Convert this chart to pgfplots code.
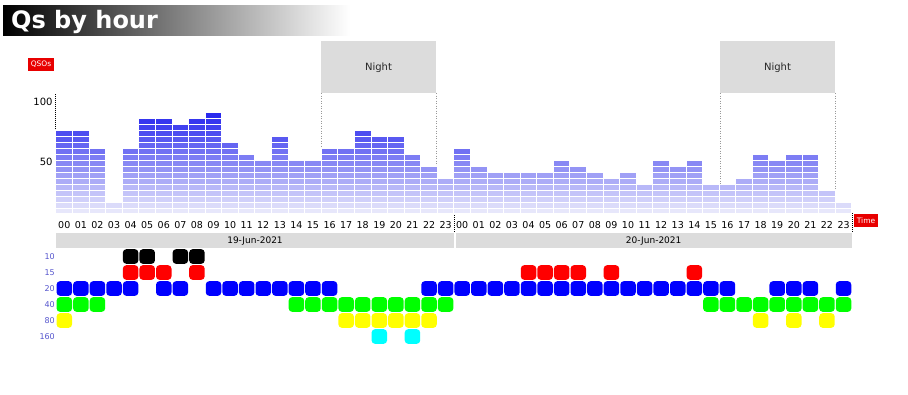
\documentclass[border=0pt]{standalone}
\usepackage{pgfplots}
\pgfplotsset{compat=1.18}
\usepackage{pgfplotstable}
\usepackage{fontspec}
\setmainfont{DejaVu Sans}
\definecolor{barTop}{RGB}{18,18,236}
\definecolor{barBot}{RGB}{255,255,253}
\definecolor{nightgray}{RGB}{220,220,220}
\definecolor{lblue}{RGB}{85,85,205}
\definecolor{redbox}{RGB}{232,0,0}
\definecolor{bgreen}{RGB}{0,255,0}
\definecolor{byellow}{RGB}{255,255,0}
\definecolor{bcyan}{RGB}{0,255,255}
\definecolor{bblue}{RGB}{0,0,255}
\definecolor{bred}{RGB}{255,0,0}

\pgfdeclareplotmark{rsq}{%
  \pgfpathmoveto{\pgfpoint{-4.25pt}{-7.35pt}}%
  \pgfpathlineto{\pgfpoint{4.25pt}{-7.35pt}}%
  \pgfpatharc{-90}{0}{3.5pt}%
  \pgfpathlineto{\pgfpoint{7.75pt}{3.85pt}}%
  \pgfpatharc{0}{90}{3.5pt}%
  \pgfpathlineto{\pgfpoint{-4.25pt}{7.35pt}}%
  \pgfpatharc{90}{180}{3.5pt}%
  \pgfpathlineto{\pgfpoint{-7.75pt}{-3.85pt}}%
  \pgfpatharc{180}{270}{3.5pt}%
  \pgfpathclose
  \pgfusepathqfill}

\pgfplotstableread{
h v
0 75
1 75
2 60
3 15
4 60
5 85
6 85
7 80
8 85
9 90
10 65
11 55
12 50
13 70
14 50
15 50
16 60
17 60
18 75
19 70
20 70
21 55
22 45
23 35
24 60
25 45
26 40
27 40
28 40
29 40
30 50
31 45
32 40
33 35
34 40
35 30
36 50
37 45
38 50
39 30
40 30
41 35
42 55
43 50
44 55
45 55
46 25
47 15
}\hourdata

\begin{document}
\begin{tikzpicture}
\useasboundingbox (0pt,0pt) rectangle (908pt,-394pt);
% title bar
\shade[left color=black, right color=white] (3pt,-5pt) rectangle (350pt,-35pt);
\node[anchor=base west, text=white, inner sep=0pt, font=\fontsize{24}{28}\bfseries\selectfont] at (11pt,-28.5pt) {Qs by hour};
% night boxes
\fill[nightgray] (321pt,-41pt) rectangle (436pt,-93pt);
\fill[nightgray] (720pt,-41pt) rectangle (835pt,-93pt);
\node[font=\fontsize{10}{12}\selectfont, text=black!85] at (378.5pt,-67.5pt) {Night};
\node[font=\fontsize{10}{12}\selectfont, text=black!85] at (777.5pt,-67.5pt) {Night};
\foreach \xx in {321,436,720,835}{
  \draw[black!40, line width=0.6pt, dash pattern=on 1pt off 1.5pt] (\xx pt,-93pt) -- (\xx pt,-213pt);
}
% labels
\node[fill=redbox, text=white, font=\fontsize{7.5}{9}\selectfont, minimum width=26pt, minimum height=13pt, inner sep=0pt] at (41pt,-64.5pt) {QSOs};
\node[fill=redbox, text=white, font=\fontsize{7.5}{9}\selectfont, minimum width=24pt, minimum height=13pt, inner sep=0pt] at (866pt,-220.5pt) {Time};
% date bands
\fill[nightgray] (56pt,-233.3pt) rectangle (453.5pt,-247.7pt);
\fill[nightgray] (455.5pt,-233.3pt) rectangle (852pt,-247.7pt);
\node[font=\fontsize{9}{11}\selectfont] at (255pt,-240.8pt) {19-Jun-2021};
\node[font=\fontsize{9}{11}\selectfont] at (653.7pt,-240.8pt) {20-Jun-2021};
\draw[black, line width=0.8pt, dash pattern=on 1pt off 1pt] (454.3pt,-213.4pt) -- (454.3pt,-233pt);
\draw[black, line width=0.8pt, dash pattern=on 1pt off 1pt] (852pt,-213.4pt) -- (852pt,-233pt);

\begin{axis}[
  at={(55pt,-213.4pt)}, anchor=south west,
  x=16.58pt, y=1.2pt,
  xmin=-0.56, xmax=47.5, ymin=5.5, ymax=105,
  axis x line*=bottom, axis y line*=left,
  axis line style={black, line width=0.8pt, dash pattern=on 1pt off 1pt, -},
  xtick={0,...,47},
  xticklabels={00,01,02,03,04,05,06,07,08,09,10,11,12,13,14,15,16,17,18,19,20,21,22,23,00,01,02,03,04,05,06,07,08,09,10,11,12,13,14,15,16,17,18,19,20,21,22,23},
  ytick={50,100}, yticklabels={50,100},
  major tick length=0pt,
  xticklabel style={font=\fontsize{9.5}{11}\selectfont, anchor=base, yshift=-14.8pt, inner sep=0pt},
  yticklabel style={font=\fontsize{10}{12}\selectfont, anchor=base east, inner sep=0pt, xshift=-2.3pt, yshift=-5.7pt},
]
\pgfplotsinvokeforeach{90,85,...,10}{
  \addplot[ybar, bar width=16.58pt, bar shift=0pt, fill=barTop!#1!barBot, draw=white, line width=1pt]
    table[x=h, y expr={\thisrow{v}>=#1 ? #1 : nan}] {\hourdata};
}
\end{axis}

\begin{axis}[
  at={(56pt,-248.5pt)}, anchor=north west,
  x=16.58pt, y=16pt,
  xmin=-0.5, xmax=47.5, ymin=-0.5, ymax=5.5, y dir=reverse,
  axis line style={draw=none},
  xtick=\empty, ytick={0,...,5}, yticklabels={10,15,20,40,80,160},
  major tick length=0pt,
  yticklabel style={font=\fontsize{8}{9}\selectfont, text=lblue, anchor=east, inner sep=0pt, xshift=-1pt},
  clip=false,
]
\addplot[only marks, mark=rsq, color=black] coordinates {(4,0) (5,0) (7,0) (8,0)};
\addplot[only marks, mark=rsq, color=bred] coordinates {(4,1) (5,1) (6,1) (8,1) (28,1) (29,1) (30,1) (31,1) (33,1) (38,1)};
\addplot[only marks, mark=rsq, color=bblue] coordinates {(0,2) (1,2) (2,2) (3,2) (4,2) (6,2) (7,2) (9,2) (10,2) (11,2) (12,2) (13,2) (14,2) (15,2) (16,2) (22,2) (23,2) (24,2) (25,2) (26,2) (27,2) (28,2) (29,2) (30,2) (31,2) (32,2) (33,2) (34,2) (35,2) (36,2) (37,2) (38,2) (39,2) (40,2) (43,2) (44,2) (45,2) (47,2)};
\addplot[only marks, mark=rsq, color=bgreen] coordinates {(0,3) (1,3) (2,3) (14,3) (15,3) (16,3) (17,3) (18,3) (19,3) (20,3) (21,3) (22,3) (23,3) (39,3) (40,3) (41,3) (42,3) (43,3) (44,3) (45,3) (46,3) (47,3)};
\addplot[only marks, mark=rsq, color=byellow] coordinates {(0,4) (17,4) (18,4) (19,4) (20,4) (21,4) (22,4) (42,4) (44,4) (46,4)};
\addplot[only marks, mark=rsq, color=bcyan] coordinates {(19,5) (21,5)};
\end{axis}
\end{tikzpicture}
\end{document}
